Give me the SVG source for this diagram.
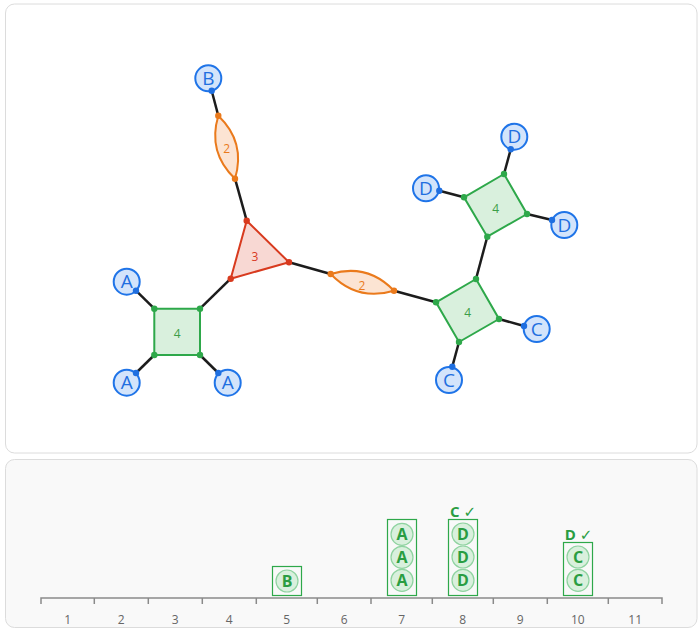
<svg xmlns="http://www.w3.org/2000/svg" width="700" height="630" viewBox="0 0 700 630">
<style>
.panel{stroke:#dcdcdc;stroke-width:1}
.edge{stroke:#1c1c1c;stroke-width:2.5;fill:none}
.leaf circle.n{fill:#d3e4fb;stroke:#1f74e8;stroke-width:2}
.leaf text{font-family:"Open Sans","Noto Sans",sans-serif;font-size:19px;fill:#1f6fe0;text-anchor:middle}
.bdot{fill:#1f6fe0}
.sq{fill:#d9f0dd;stroke:#2ea84a;stroke-width:2}
.gdot{fill:#2ea84a}
.gl{font-family:"Open Sans","Noto Sans",sans-serif;font-size:12px;fill:#3c9e48;text-anchor:middle}
.tri{fill:#f8d8d3;stroke:#d83a1e;stroke-width:2}
.rdot{fill:#d83a1e}
.rl{font-family:"Open Sans","Noto Sans",sans-serif;font-size:12px;fill:#d83a1e;text-anchor:middle}
.lens{fill:#fce4d3;stroke:#ea7a1c;stroke-width:2}
.odot{fill:#ea7a1c}
.ol{font-family:"Open Sans","Noto Sans",sans-serif;font-size:12px;fill:#ea7a1c;text-anchor:middle}
.axis{stroke:#8a8a8a;stroke-width:1.5;fill:none}
.tick{font-family:"Open Sans","Noto Sans",sans-serif;font-size:12px;fill:#666;text-anchor:middle}
.box{fill:none;stroke:#2ea84a;stroke-width:1.2}
.tok circle{fill:#d9f0dd;stroke:#8fd3a0;stroke-width:1.2}
.tok text{font-family:"Open Sans","Noto Sans",sans-serif;font-size:16px;font-weight:bold;fill:#2a9d42;text-anchor:middle}
.done{font-family:"Open Sans","DejaVu Sans",sans-serif;font-size:15px;font-weight:bold;fill:#2a9d42;text-anchor:middle}
</style>
<rect class="panel" x="5.5" y="4" width="691.5" height="449" rx="9" fill="#ffffff"/>
<rect class="panel" x="5.5" y="459.5" width="691.5" height="168" rx="9" fill="#f9f9f9"/>

<g id="connectors">
<line class="edge" x1="211.7" y1="90.7" x2="218.3" y2="115.7"/>
<line class="edge" x1="235" y1="178.7" x2="246.7" y2="220.7"/>
<line class="edge" x1="200" y1="308.7" x2="230.7" y2="278.7"/>
<line class="edge" x1="136" y1="290.7" x2="154.3" y2="308.7"/>
<line class="edge" x1="136" y1="373" x2="154.3" y2="355"/>
<line class="edge" x1="218.3" y1="373" x2="200" y2="355"/>
<line class="edge" x1="289" y1="262.3" x2="330.7" y2="274"/>
<line class="edge" x1="394" y1="290.7" x2="436" y2="302.3"/>
<line class="edge" x1="487.3" y1="236.7" x2="476" y2="279"/>
<line class="edge" x1="510.7" y1="149.3" x2="504" y2="174"/>
<line class="edge" x1="439.3" y1="190.7" x2="464" y2="197.3"/>
<line class="edge" x1="552" y1="220" x2="527" y2="214"/>
<line class="edge" x1="524" y1="326" x2="499" y2="319"/>
<line class="edge" x1="452.3" y1="366.7" x2="459" y2="342"/>
</g>

<g id="lens-top">
<path class="lens" d="M218.3,115.7 Q245.98,142.08 235,178.7 Q207.32,152.32 218.3,115.7 Z"/>
<circle class="odot" cx="218.3" cy="115.7" r="3.2"/>
<circle class="odot" cx="235" cy="178.7" r="3.2"/>
<text class="ol" x="226.7" y="152.5">2</text>
</g>
<g id="lens-mid">
<path class="lens" d="M330.7,274 Q357.25,301.69 394,290.7 Q367.45,263.01 330.7,274 Z"/>
<circle class="odot" cx="330.7" cy="274" r="3.2"/>
<circle class="odot" cx="394" cy="290.7" r="3.2"/>
<text class="ol" x="362" y="289.5">2</text>
</g>
<g id="triangle">
<polygon class="tri" points="246.7,220.7 289,262.3 230.7,278.7"/>
<circle class="rdot" cx="246.7" cy="220.7" r="3.2"/>
<circle class="rdot" cx="289" cy="262.3" r="3.2"/>
<circle class="rdot" cx="230.7" cy="278.7" r="3.2"/>
<text class="rl" x="255" y="260.5">3</text>
</g>
<g id="square-a">
<polygon class="sq" points="154.3,308.7 200,308.7 200,355 154.3,355"/>
<circle class="gdot" cx="154.3" cy="308.7" r="3.2"/>
<circle class="gdot" cx="200" cy="308.7" r="3.2"/>
<circle class="gdot" cx="200" cy="355" r="3.2"/>
<circle class="gdot" cx="154.3" cy="355" r="3.2"/>
<text class="gl" x="177.3" y="337.5">4</text>
</g>
<g id="square-d">
<polygon class="sq" points="504,174 527,214 487.3,236.7 464,197.3"/>
<circle class="gdot" cx="504" cy="174" r="3.2"/>
<circle class="gdot" cx="527" cy="214" r="3.2"/>
<circle class="gdot" cx="487.3" cy="236.7" r="3.2"/>
<circle class="gdot" cx="464" cy="197.3" r="3.2"/>
<text class="gl" x="495.7" y="212.5">4</text>
</g>
<g id="square-c">
<polygon class="sq" points="476,279 499,319 459,342 436,302.3"/>
<circle class="gdot" cx="476" cy="279" r="3.2"/>
<circle class="gdot" cx="499" cy="319" r="3.2"/>
<circle class="gdot" cx="459" cy="342" r="3.2"/>
<circle class="gdot" cx="436" cy="302.3" r="3.2"/>
<text class="gl" x="467.7" y="316.5">4</text>
</g>

<g id="leaf-b" class="leaf"><circle class="n" cx="208.3" cy="78.3" r="13"/><text x="208.3" y="85">B</text><circle class="bdot" cx="211.7" cy="90.7" r="3.2"/></g>
<g id="leaf-a1" class="leaf"><circle class="n" cx="126.7" cy="281.7" r="13"/><text x="126.7" y="288.4">A</text><circle class="bdot" cx="136" cy="290.7" r="3.2"/></g>
<g id="leaf-a2" class="leaf"><circle class="n" cx="126.7" cy="382.7" r="13"/><text x="126.7" y="389.4">A</text><circle class="bdot" cx="136" cy="373" r="3.2"/></g>
<g id="leaf-a3" class="leaf"><circle class="n" cx="227.7" cy="382.7" r="13"/><text x="227.7" y="389.4">A</text><circle class="bdot" cx="218.3" cy="373" r="3.2"/></g>
<g id="leaf-d1" class="leaf"><circle class="n" cx="514.3" cy="136.7" r="13"/><text x="514.3" y="143.4">D</text><circle class="bdot" cx="510.7" cy="149.3" r="3.2"/></g>
<g id="leaf-d2" class="leaf"><circle class="n" cx="426" cy="188.3" r="13"/><text x="426" y="195">D</text><circle class="bdot" cx="439.3" cy="190.7" r="3.2"/></g>
<g id="leaf-d3" class="leaf"><circle class="n" cx="564.3" cy="225" r="13"/><text x="564.3" y="231.7">D</text><circle class="bdot" cx="552" cy="220" r="3.2"/></g>
<g id="leaf-c1" class="leaf"><circle class="n" cx="536.7" cy="329" r="13"/><text x="536.7" y="335.7">C</text><circle class="bdot" cx="524" cy="326" r="3.2"/></g>
<g id="leaf-c2" class="leaf"><circle class="n" cx="449" cy="380" r="13"/><text x="449" y="386.7">C</text><circle class="bdot" cx="452.3" cy="366.7" r="3.2"/></g>

<g id="axis">
<path class="axis" d="M41,604 V598 H662 V604 M94.3,598 V604 M148.3,598 V604 M202.3,598 V604 M256.3,598 V604 M317.3,598 V604 M371,598 V604 M432.3,598 V604 M493.3,598 V604 M547.3,598 V604 M608.3,598 V604"/>
<text class="tick" x="67.6" y="624">1</text>
<text class="tick" x="121.3" y="624">2</text>
<text class="tick" x="175.3" y="624">3</text>
<text class="tick" x="229.3" y="624">4</text>
<text class="tick" x="286.8" y="624">5</text>
<text class="tick" x="344.2" y="624">6</text>
<text class="tick" x="401.7" y="624">7</text>
<text class="tick" x="462.8" y="624">8</text>
<text class="tick" x="520.3" y="624">9</text>
<text class="tick" x="577.8" y="624">10</text>
<text class="tick" x="635.2" y="624">11</text>
</g>

<g id="bin-5">
<rect class="box" x="272.5" y="566.5" width="29" height="29"/>
<g class="tok"><circle cx="287" cy="581" r="11"/><text x="287" y="586.7">B</text></g>
</g>
<g id="bin-7">
<rect class="box" x="387.5" y="519.5" width="29" height="76"/>
<g class="tok"><circle cx="402" cy="534.3" r="11"/><text x="402" y="540">A</text></g>
<g class="tok"><circle cx="402" cy="557.3" r="11"/><text x="402" y="563">A</text></g>
<g class="tok"><circle cx="402" cy="580.3" r="11"/><text x="402" y="586">A</text></g>
</g>
<g id="bin-8">
<text class="done" x="463" y="516.5">C ✓</text>
<rect class="box" x="448.5" y="519.5" width="29" height="76"/>
<g class="tok"><circle cx="463" cy="534" r="11"/><text x="463" y="539.7">D</text></g>
<g class="tok"><circle cx="463" cy="557" r="11"/><text x="463" y="562.7">D</text></g>
<g class="tok"><circle cx="463" cy="580.3" r="11"/><text x="463" y="586">D</text></g>
</g>
<g id="bin-10">
<text class="done" x="578.5" y="539.5">D ✓</text>
<rect class="box" x="563.5" y="542.5" width="29" height="53"/>
<g class="tok"><circle cx="578" cy="557" r="11"/><text x="578" y="562.7">C</text></g>
<g class="tok"><circle cx="578" cy="580.3" r="11"/><text x="578" y="586">C</text></g>
</g>
</svg>
